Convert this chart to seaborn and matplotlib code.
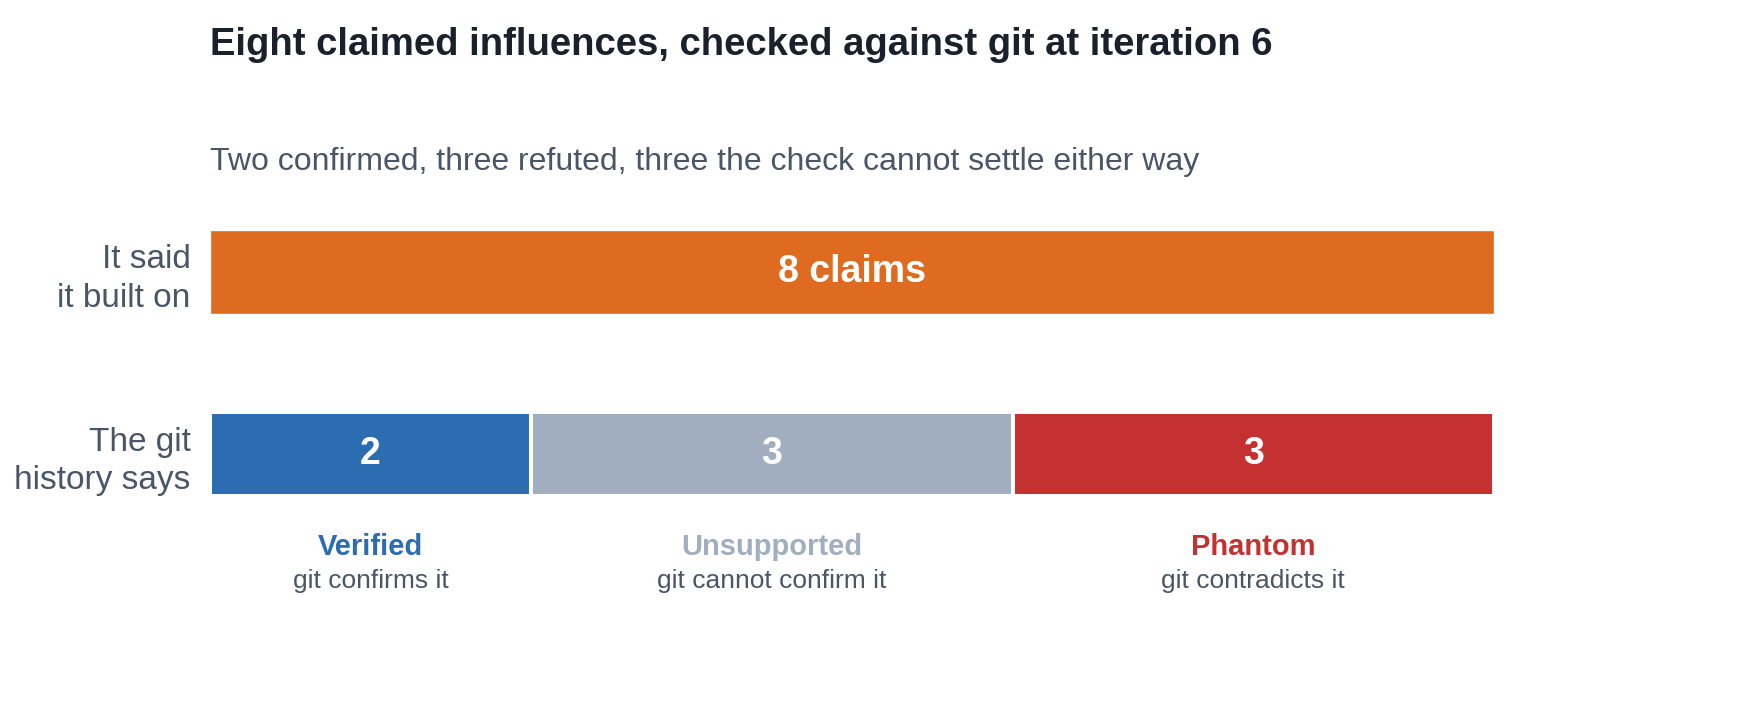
import matplotlib
matplotlib.use("Agg")
import matplotlib.pyplot as plt
import seaborn as sns
import pandas as pd

# ---- data ----
title = "Eight claimed influences, checked against git at iteration 6"
subtitle = "Two confirmed, three refuted, three the check cannot settle either way"
row_labels = ["It said\nit built on", "The git\nhistory says"]
claimed_total = 8
claimed_label = "8 claims"
categories = ["Verified", "Unsupported", "Phantom"]
counts = [2, 3, 3]
descriptions = ["git confirms it", "git cannot confirm it", "git contradicts it"]

# ---- style ----
claim_color = "#DE6B20"
cat_colors = ["#2C6CB0", "#A0AEC0", "#C53030"]
dark = "#1A202C"
muted = "#4A5568"

sns.set_theme(style="white")
plt.rcParams['font.family'] = ['Liberation Sans', 'DejaVu Sans']

W, H = 1741, 718
fig = plt.figure(figsize=(W / 100, H / 100), dpi=100)
fig.patch.set_facecolor("white")
ax = fig.add_axes([210 / W, 1 - 591 / H, (1494 - 210) / W, (591 - 135) / H])

bar_h = 0.46
top_df = pd.DataFrame({"row": [row_labels[0]], "value": [claimed_total]})
sns.barplot(data=top_df, x="value", y="row", order=row_labels, color=claim_color,
            saturation=1, width=bar_h, ax=ax, orient="h")

left = 0
for cat, n, col in zip(categories, counts, cat_colors):
    ax.barh(1, n, left=left, height=bar_h, color=col, edgecolor="white", linewidth=2.9)
    left += n

ax.set_xlim(0, claimed_total)
ax.set_ylim(1.75, -0.75)
ax.set_xlabel("")
ax.set_ylabel("")
ax.set_xticks([])
ax.set_yticks([0, 1])
ax.set_yticklabels(row_labels, fontsize=24, color=muted, ha="right", linespacing=1.32)
ax.tick_params(axis="y", length=0, pad=14)
for s in ax.spines.values():
    s.set_visible(False)

# bar value labels
ax.text(claimed_total / 2, 0, claimed_label, ha="center", va="center",
        color="white", fontsize=27, fontweight="bold")
left = 0
for cat, n, col, desc in zip(categories, counts, cat_colors, descriptions):
    cx = left + n / 2
    ax.text(cx, 1, str(n), ha="center", va="center", color="white",
            fontsize=27, fontweight="bold")
    ax.text(cx, 1.507, cat, ha="center", va="center", color=col,
            fontsize=21, fontweight="bold")
    ax.text(cx, 1.693, desc, ha="center", va="center", color=muted, fontsize=19)
    left += n

fig.text(210 / W, 1 - 45 / H, title, ha="left", va="center", fontsize=27.5,
         fontweight="bold", color=dark)
fig.text(210 / W, 1 - 162 / H, subtitle, ha="left", va="center", fontsize=23,
         color=muted)

fig.savefig("out.png", dpi=100, facecolor="white")
